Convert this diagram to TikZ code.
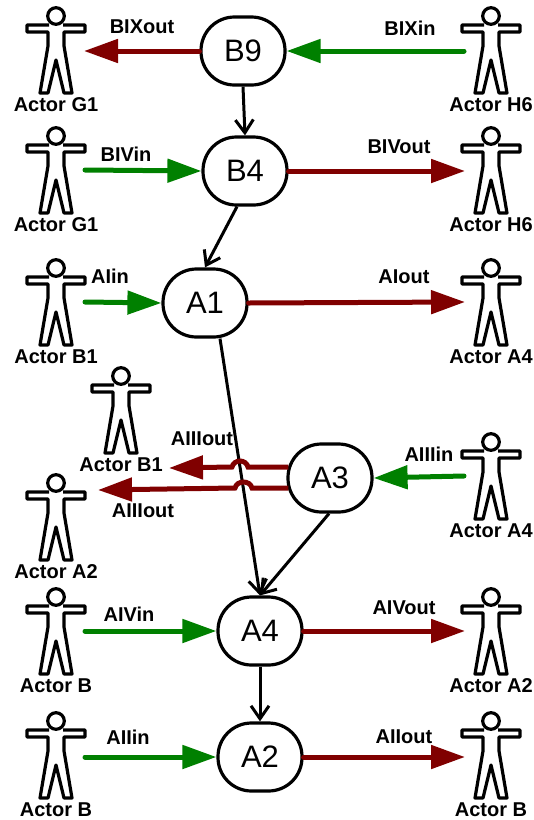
\documentclass[tikz,border=0pt]{standalone}
\usepackage{fontspec}
\setmainfont{Liberation Sans}
\usetikzlibrary{arrows.meta}
\tikzset{
 state/.style={draw=black, line width=3.2pt, rounded corners=33.5pt, minimum width=84pt, minimum height=68pt, inner sep=0pt, font=\fontsize{31}{32}\selectfont},
 tag/.style={font=\fontsize{20}{21}\selectfont\bfseries, inner sep=0pt},
 flow/.style={black, line width=3pt, -{Straight Barb[length=13pt,width=18pt,line width=3pt]}},
 inflow/.style={green!50!black, line width=5pt, line cap=round, -{Triangle[length=34pt,width=23pt]}},
 outflow/.style={red!50!black, line width=5pt, line cap=round, -{Triangle[length=34pt,width=23pt]}},
 actor/.pic={
  \draw[line width=3.2pt, line join=round] (0,0) circle (8.3);
  \draw[line width=3.2pt, line join=round] (-7,9)--(-29,9)--(-29,16)--(-8,16)--(-8,30)--(-16,77)--(-8,77)--(0,44)--(8,77)--(16,77)--(8,30)--(8,16)--(29,16)--(29,9)--(7,9);
 }
}
\begin{document}
\begin{tikzpicture}[x=1pt, y=-1pt]
 \useasboundingbox (0,0) rectangle (534,820);
 % actors
 \foreach \nm/\x/\y/\who in {ga/56/16/G1, ha/491/16/H6, gb/56/136/G1, hb/491/136/H6, bc/56/268/B1, ac/491/268/A4, bd/121/376/B1, ae/56/483/A2, af/491/442/A4, bg/56/597/B, ag/491/597/A2, bh/56/721/B, bi/491/721/B}{
  \pic at (\x,\y) {actor};
  \node[tag] (\nm) at (\x,\y+89) {Actor \who};
 }
 % states
 \node[state] (B9) at (243,51) {B9};
 \node[state] (B4) at (245,171) {B4};
 \node[state] (A1) at (205,303) {A1};
 \node[state] (A3) at (330,478) {A3};
 \node[state] (A4) at (260,631) {A4};
 \node[state] (A2) at (260,757) {A2};
 % free ends
 \foreach \nm/\x/\y in {p1/84/51, p2/464/51, p3/85/170, p4/465/171, p5/85/302, p6/465/302, p7/169/468, p8/98/490, p9/464/476, p10/85/631, p11/465/631, p12/85/757, p13/465/757}
  \coordinate (\nm) at (\x,\y);
 % black
 \draw[flow] (B9.south) -- (B4.north);
 \draw[flow] ([xshift=-8pt]B4.south) -- (A1.north);
 \draw[flow] ([xshift=15pt]A1.south) -- (A4.north);
 \draw[flow] ([xshift=-1pt]A3.south) -- (A4.north);
 \draw[flow] (A4.south) -- (A2.north);
 % in
 \draw[inflow] (p2) -- (B9.east);
 \draw[inflow] (p3) -- (B4.west);
 \draw[inflow] (p5) -- (A1.west);
 \draw[inflow] (p9) -- (A3.east);
 \draw[inflow] (p10) -- (A4.west);
 \draw[inflow] (p12) -- (A2.west);
 % out
 \draw[outflow] (B9.west) -- (p1);
 \draw[outflow] (B4.east) -- (p4);
 \draw[outflow] (A1.east) -- (p6);
 \draw[outflow] (A4.east) -- (p11);
 \draw[outflow] (A2.east) -- (p13);
 \draw[outflow, line cap=butt] ([shift={(2pt,11pt)}]A3.west) -- (248,467) .. controls (246,459) and (234,459) .. (232,467) -- (p7);
 \draw[outflow, line cap=butt] ([shift={(2pt,-10pt)}]A3.west) -- (252,488) .. controls (250,480) and (237,480) .. (235,488) -- (p8);
 % labels
 \node[tag] (l1) at (142,27) {BIXout};
 \node[tag] (l2) at (410,28) {BIXin};
 \node[tag] (l3) at (126,154) {BIVin};
 \node[tag] (l4) at (399,147) {BIVout};
 \node[tag] (l5) at (110,276) {AIin};
 \node[tag] (l6) at (404,277) {AIout};
 \node[tag] (l7) at (202,439) {AIIIout};
 \node[tag] (l8) at (143,511) {AIIIout};
 \node[tag] (l9) at (429,454) {AIIIin};
 \node[tag] (l10) at (129,614) {AIVin};
 \node[tag] (l11) at (404,608) {AIVout};
 \node[tag] (l12) at (128,737) {AIIin};
 \node[tag] (l13) at (404,737) {AIIout};
\end{tikzpicture}
\end{document}
